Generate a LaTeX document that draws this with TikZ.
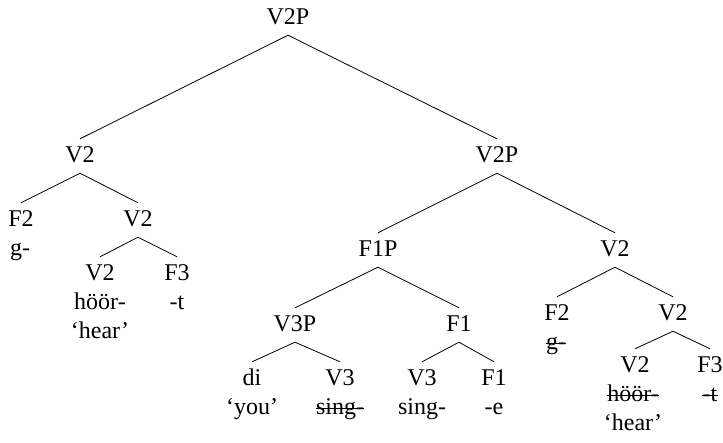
\documentclass[tikz,border=0pt]{standalone}
\usepackage{fontspec}
\setmainfont{Liberation Serif}
\newcommand{\treefont}{\fontsize{24}{29}\selectfont}

\begin{document}
\begin{tikzpicture}[x=1pt,y=-1pt,
  cat/.style={anchor=base, font=\treefont, text height=16pt, text depth=4pt,
              inner xsep=0pt, inner ysep=7pt},
  word/.style={anchor=base, font=\treefont, inner sep=0pt},
  branch/.style={line width=0.8pt},
  strike/.style={line width=0.9pt}]
\useasboundingbox (0,0) rectangle (723,442);

% root
\node[cat] (root) at (288,24) {V2P};

% left branch: g- + V2
\node[cat]  (v2a)   at (80,162)  {V2};
\node[cat]  (f2a)   at (21,226)  {F2};
\node[word] (ga)    at (20,255)  {g-};
\node[cat]  (v2c)   at (138,226) {V2};
\node[cat]  (v2d)   at (100,280) {V2};
\node[word] (hoora) at (100,309) {höör-};
\node[word] (heara) at (100,338) {‘hear’};
\node[cat]  (f3a)   at (177,280) {F3};
\node[word] (ta)    at (177,309) {-t};

% right branch
\node[cat]  (v2pb)  at (497,162) {V2P};
\node[cat]  (f1p)   at (378,256) {F1P};
\node[cat]  (v2e)   at (615,256) {V2};

\node[cat]  (v3p)   at (295,331) {V3P};
\node[cat]  (f1a)   at (459,331) {F1};
\node[cat]  (di)    at (252,385) {di};
\node[word] (you)   at (252,414) {‘you’};
\node[cat]  (v3a)   at (340,385) {V3};
\node[word] (singa) at (340,414) {sing-};
\node[cat]  (v3b)   at (422,385) {V3};
\node[word] (singb) at (422,414) {sing-};
\node[cat]  (f1b)   at (494,385) {F1};
\node[word] (e)     at (494,414) {-e};

\node[cat]  (f2b)   at (557,320) {F2};
\node[word] (gb)    at (556,349) {g-};
\node[cat]  (v2f)   at (673,320) {V2};
\node[cat]  (v2g)   at (635,372) {V2};
\node[word] (hoorb) at (633,401) {höör-};
\node[word] (hearb) at (633,430) {‘hear’};
\node[cat]  (f3b)   at (710,372) {F3};
\node[word] (tb)    at (710,401) {-t};

% deleted copies are struck through
\foreach \w in {singa,gb,hoorb,tb}
  \draw[strike] ([yshift=6pt]\w.base west) -- ([yshift=6pt]\w.base east);

% branches
\draw[branch] (root.south) -- (v2a.north);
\draw[branch] (root.south) -- (v2pb.north);
\draw[branch] (v2a.south) -- (f2a.north);
\draw[branch] (v2a.south) -- (v2c.north);
\draw[branch] (v2c.south) -- (v2d.north);
\draw[branch] (v2c.south) -- (f3a.north);
\draw[branch] (v2pb.south) -- (f1p.north);
\draw[branch] (v2pb.south) -- (v2e.north);
\draw[branch] (f1p.south) -- (v3p.north);
\draw[branch] (f1p.south) -- (f1a.north);
\draw[branch] (v3p.south) -- (di.north);
\draw[branch] (v3p.south) -- (v3a.north);
\draw[branch] (f1a.south) -- (v3b.north);
\draw[branch] (f1a.south) -- (f1b.north);
\draw[branch] (v2e.south) -- (f2b.north);
\draw[branch] (v2e.south) -- (v2f.north);
\draw[branch] (v2f.south) -- (v2g.north);
\draw[branch] (v2f.south) -- (f3b.north);
\end{tikzpicture}
\end{document}
